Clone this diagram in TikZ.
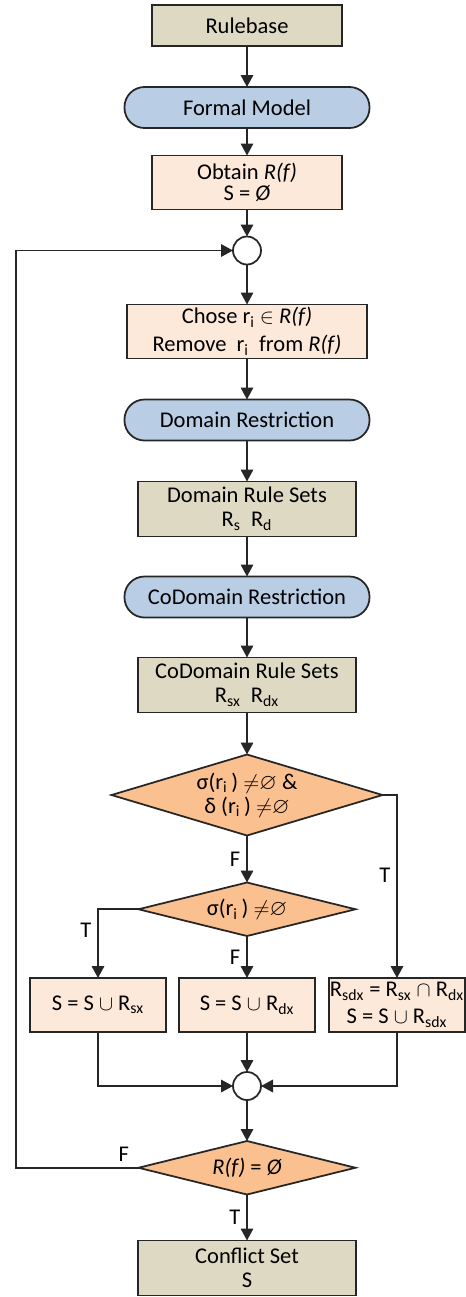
\documentclass[tikz,border=0pt]{standalone}
\usepackage{amsmath,amssymb}
\usepackage{fontspec}
\setmainfont{Carlito}
\usepackage{tikz}
\usetikzlibrary{positioning,shapes.geometric,arrows.meta}
\definecolor{tanfill}{HTML}{DDD9C3}
\definecolor{bluefill}{HTML}{B9CDE5}
\definecolor{peachfill}{HTML}{FDE9D9}
\definecolor{orangefill}{HTML}{FAC090}

\begin{document}
\begin{tikzpicture}[font=\fontsize{12.8}{13.6}\selectfont]
     \tikzset{base/.style={draw=black!85, line width=1pt, align=center, inner sep=1pt, outer sep=0pt}}
     \tikzset{tanbox/.style={base, rectangle, fill=tanfill, minimum width=4.36cm, minimum height=1.1cm}}
     \tikzset{peachbox/.style={base, rectangle, fill=peachfill, minimum height=1.08cm}}
     \tikzset{smallbox/.style={minimum width=2.72cm, inner xsep=0pt}}
     \tikzset{pill/.style={base, rectangle, rounded corners=0.4cm, fill=bluefill, minimum width=4.9cm, minimum height=0.82cm}}
     \tikzset{decision/.style={base, diamond, fill=orangefill, aspect=3.3, inner sep=0pt, minimum width=4.34cm, minimum height=1.07cm}}
     \tikzset{junction/.style={base, circle, fill=white, inner sep=0pt, minimum size=0.56cm}}
     \tikzset{line/.style={draw=black!85, line width=1pt, -{Triangle[length=2.4mm,width=2.5mm]}}}
     \useasboundingbox (0,0) rectangle (9.32,-25.94);

     \node [tanbox, minimum width=3.8cm, minimum height=0.82cm] (rb) at (4.94,-0.51) {Rulebase};
     \node [pill, below=0.82cm of rb] (fm) {Formal Model};
     \node [peachbox, minimum width=3.8cm, below=0.55cm of fm] (obt) {Obtain \textit{R(f)}\\[-1.7pt]S = \textit{Ø}};
     \node [junction, below=0.54cm of obt] (c1) {};
     \node [peachbox, minimum width=4.8cm, below=0.8cm of c1] (chose) {Chose r\textsubscript{i} $\in$ \textit{R(f)}\\[2.3pt]Remove\ \ r\textsubscript{i}\ \ from \textit{R(f)}};
     \node [pill, below=0.82cm of chose] (dr) {Domain Restriction};
     \node [tanbox, below=0.82cm of dr] (drs) {Domain Rule Sets\\R\textsubscript{s}\ \ R\textsubscript{d}};
     \node [pill, below=0.8cm of drs] (cdr) {CoDomain Restriction};
     \node [tanbox, below=0.8cm of cdr] (cdrs) {CoDomain Rule Sets\\R\textsubscript{sx}\ \ R\textsubscript{dx}};

     \node [decision, minimum width=5.42cm, minimum height=1.62cm, below=0.84cm of cdrs] (d1) {σ(r\textsubscript{i}\,) ${\neq}{\varnothing}$ \&\\δ (r\textsubscript{i}\,) ${\neq}{\varnothing}$};
     \node [decision, below=0.94cm of d1] (d2) {σ(r\textsubscript{i}\,) ${\neq}{\varnothing}$};

     \node [peachbox, smallbox, below=0.84cm of d2] (s2) {S = S $\cup$ R\textsubscript{dx}};
     \node [peachbox, smallbox, left=0.26cm of s2] (s1) {S = S $\cup$ R\textsubscript{sx}};
     \node [peachbox, smallbox, right=0.28cm of s2] (s3) {R\textsubscript{sdx} = R\textsubscript{sx} $\cap$ R\textsubscript{dx}\\[1.7pt]S = S $\cup$ R\textsubscript{sdx}};

     \node [junction, below=0.8cm of s2] (c2) {};
     \node [decision, below=0.82cm of c2] (d3) {\textit{R(f)} = \textit{Ø}};
     \node [tanbox, below=0.92cm of d3] (cs) {Conflict Set\\S};
     \coordinate (lp) at (0.32,0);

     \path [line] (rb) -- (fm);
     \path [line] (fm) -- (obt);
     \path [line] (obt) -- (c1);
     \path [line] (c1) -- (chose);
     \path [line] (chose) -- (dr);
     \path [line] (dr) -- (drs);
     \path [line] (drs) -- (cdr);
     \path [line] (cdr) -- (cdrs);
     \path [line] (cdrs) -- (d1);

     \path [line] (d1) -- (d2) node [midway, left] {F};
     \path [line] (d1.east) -| (s3.north) node [pos=0.72, left] {T};
     \path [line] (d2.west) -| (s1.north) node [pos=0.65, left] {T};
     \path [line] (d2) -- (s2) node [midway, left] {F};

     \path [line] (s1.south) |- (c2.west);
     \path [line] (s2) -- (c2);
     \path [line] (s3.south) |- (c2.east);
     \path [line] (c2) -- (d3);

     \path [line] (d3) -- (cs) node [midway, left] {T};
     \path [line] (d3.west) -- (d3.west -| lp) node [pos=0.12, above] {F} |- (c1.west);
\end{tikzpicture}
\end{document}
